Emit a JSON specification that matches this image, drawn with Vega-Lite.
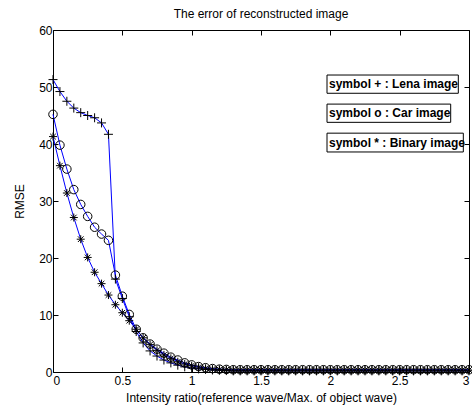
{
  "$schema": "https://vega.github.io/schema/vega-lite/v6.json",
  "width": 416,
  "height": 342,
  "autosize": {"type": "none"},
  "padding": {"left": 53, "top": 30, "right": 3, "bottom": 39},
  "background": "white",
  "config": {
    "font": "Liberation Sans",
    "view": {"stroke": null},
    "axis": {
      "grid": false,
      "domainColor": "black",
      "domainWidth": 1,
      "tickColor": "black",
      "tickWidth": 1,
      "tickSize": -5,
      "labelColor": "black",
      "labelFont": "Liberation Sans",
      "labelFontSize": 12,
      "titleFont": "Liberation Sans",
      "titleFontSize": 12,
      "titleFontWeight": "normal",
      "titleColor": "black"
    }
  },
  "title": {
    "text": "The error of reconstructed image",
    "font": "Liberation Sans",
    "fontSize": 12,
    "fontWeight": "normal",
    "color": "black",
    "anchor": "middle",
    "frame": "group",
    "offset": 3
  },
  "datasets": {
    "curves": [
      {"s":"Lena","x":0,"y":51.3},{"s":"Lena","x":0.05,"y":49.2},{"s":"Lena","x":0.1,"y":47.5},{"s":"Lena","x":0.15,"y":46.3},{"s":"Lena","x":0.2,"y":45.5},{"s":"Lena","x":0.25,"y":45.0},{"s":"Lena","x":0.3,"y":44.6},{"s":"Lena","x":0.35,"y":43.7},{"s":"Lena","x":0.4,"y":41.7},{"s":"Lena","x":0.45,"y":16.3},{"s":"Lena","x":0.5,"y":12.9},{"s":"Lena","x":0.55,"y":9.7},{"s":"Lena","x":0.6,"y":7.1},{"s":"Lena","x":0.65,"y":5.1},{"s":"Lena","x":0.7,"y":3.7},{"s":"Lena","x":0.75,"y":2.8},{"s":"Lena","x":0.8,"y":2.1},{"s":"Lena","x":0.85,"y":1.6},{"s":"Lena","x":0.9,"y":1.2},{"s":"Lena","x":0.95,"y":0.9},{"s":"Lena","x":1.0,"y":0.7},{"s":"Lena","x":1.05,"y":0.55},{"s":"Lena","x":1.1,"y":0.45},{"s":"Lena","x":1.15,"y":0.35},{"s":"Lena","x":1.2,"y":0.3},{"s":"Lena","x":1.25,"y":0.25},
      {"s":"Lena","x":1.3,"y":0.2},{"s":"Lena","x":1.35,"y":0.2},{"s":"Lena","x":1.4,"y":0.2},{"s":"Lena","x":1.45,"y":0.2},{"s":"Lena","x":1.5,"y":0.2},{"s":"Lena","x":1.55,"y":0.2},{"s":"Lena","x":1.6,"y":0.2},{"s":"Lena","x":1.65,"y":0.2},{"s":"Lena","x":1.7,"y":0.2},{"s":"Lena","x":1.75,"y":0.2},{"s":"Lena","x":1.8,"y":0.2},{"s":"Lena","x":1.85,"y":0.2},{"s":"Lena","x":1.9,"y":0.2},{"s":"Lena","x":1.95,"y":0.2},{"s":"Lena","x":2.0,"y":0.2},{"s":"Lena","x":2.05,"y":0.2},{"s":"Lena","x":2.1,"y":0.2},{"s":"Lena","x":2.15,"y":0.2},{"s":"Lena","x":2.2,"y":0.2},{"s":"Lena","x":2.25,"y":0.2},{"s":"Lena","x":2.3,"y":0.2},{"s":"Lena","x":2.35,"y":0.2},{"s":"Lena","x":2.4,"y":0.2},{"s":"Lena","x":2.45,"y":0.2},{"s":"Lena","x":2.5,"y":0.2},{"s":"Lena","x":2.55,"y":0.2},{"s":"Lena","x":2.6,"y":0.2},{"s":"Lena","x":2.65,"y":0.2},{"s":"Lena","x":2.7,"y":0.2},{"s":"Lena","x":2.75,"y":0.2},{"s":"Lena","x":2.8,"y":0.2},{"s":"Lena","x":2.85,"y":0.2},{"s":"Lena","x":2.9,"y":0.2},{"s":"Lena","x":2.95,"y":0.2},{"s":"Lena","x":3.0,"y":0.2},
      {"s":"Car","x":0,"y":45.2},{"s":"Car","x":0.05,"y":39.8},{"s":"Car","x":0.1,"y":35.6},{"s":"Car","x":0.15,"y":32.0},{"s":"Car","x":0.2,"y":29.4},{"s":"Car","x":0.25,"y":27.3},{"s":"Car","x":0.3,"y":25.4},{"s":"Car","x":0.35,"y":24.2},{"s":"Car","x":0.4,"y":23.1},{"s":"Car","x":0.45,"y":17.0},{"s":"Car","x":0.5,"y":13.3},{"s":"Car","x":0.55,"y":10.1},{"s":"Car","x":0.6,"y":7.5},{"s":"Car","x":0.65,"y":6.0},{"s":"Car","x":0.7,"y":4.9},{"s":"Car","x":0.75,"y":4.0},{"s":"Car","x":0.8,"y":3.3},{"s":"Car","x":0.85,"y":2.6},{"s":"Car","x":0.9,"y":2.1},{"s":"Car","x":0.95,"y":1.6},{"s":"Car","x":1.0,"y":1.25},{"s":"Car","x":1.05,"y":0.95},{"s":"Car","x":1.1,"y":0.75},{"s":"Car","x":1.15,"y":0.6},{"s":"Car","x":1.2,"y":0.5},{"s":"Car","x":1.25,"y":0.45},
      {"s":"Car","x":1.3,"y":0.4},{"s":"Car","x":1.35,"y":0.4},{"s":"Car","x":1.4,"y":0.4},{"s":"Car","x":1.45,"y":0.4},{"s":"Car","x":1.5,"y":0.4},{"s":"Car","x":1.55,"y":0.4},{"s":"Car","x":1.6,"y":0.4},{"s":"Car","x":1.65,"y":0.4},{"s":"Car","x":1.7,"y":0.4},{"s":"Car","x":1.75,"y":0.4},{"s":"Car","x":1.8,"y":0.4},{"s":"Car","x":1.85,"y":0.4},{"s":"Car","x":1.9,"y":0.4},{"s":"Car","x":1.95,"y":0.4},{"s":"Car","x":2.0,"y":0.4},{"s":"Car","x":2.05,"y":0.4},{"s":"Car","x":2.1,"y":0.4},{"s":"Car","x":2.15,"y":0.4},{"s":"Car","x":2.2,"y":0.4},{"s":"Car","x":2.25,"y":0.4},{"s":"Car","x":2.3,"y":0.4},{"s":"Car","x":2.35,"y":0.4},{"s":"Car","x":2.4,"y":0.4},{"s":"Car","x":2.45,"y":0.4},{"s":"Car","x":2.5,"y":0.4},{"s":"Car","x":2.55,"y":0.4},{"s":"Car","x":2.6,"y":0.4},{"s":"Car","x":2.65,"y":0.4},{"s":"Car","x":2.7,"y":0.4},{"s":"Car","x":2.75,"y":0.4},{"s":"Car","x":2.8,"y":0.4},{"s":"Car","x":2.85,"y":0.4},{"s":"Car","x":2.9,"y":0.4},{"s":"Car","x":2.95,"y":0.4},{"s":"Car","x":3.0,"y":0.4},
      {"s":"Binary","x":0,"y":41.3},{"s":"Binary","x":0.05,"y":36.2},{"s":"Binary","x":0.1,"y":31.4},{"s":"Binary","x":0.15,"y":27.1},{"s":"Binary","x":0.2,"y":23.3},{"s":"Binary","x":0.25,"y":20.1},{"s":"Binary","x":0.3,"y":17.5},{"s":"Binary","x":0.35,"y":15.5},{"s":"Binary","x":0.4,"y":13.5},{"s":"Binary","x":0.45,"y":11.8},{"s":"Binary","x":0.5,"y":10.4},{"s":"Binary","x":0.55,"y":9.0},{"s":"Binary","x":0.6,"y":7.5},{"s":"Binary","x":0.65,"y":6.0},{"s":"Binary","x":0.7,"y":4.8},{"s":"Binary","x":0.75,"y":3.8},{"s":"Binary","x":0.8,"y":3.0},{"s":"Binary","x":0.85,"y":2.4},{"s":"Binary","x":0.9,"y":1.8},{"s":"Binary","x":0.95,"y":1.4},{"s":"Binary","x":1.0,"y":1.1},{"s":"Binary","x":1.05,"y":0.85},{"s":"Binary","x":1.1,"y":0.65},{"s":"Binary","x":1.15,"y":0.5},{"s":"Binary","x":1.2,"y":0.45},{"s":"Binary","x":1.25,"y":0.4},
      {"s":"Binary","x":1.3,"y":0.35},{"s":"Binary","x":1.35,"y":0.35},{"s":"Binary","x":1.4,"y":0.35},{"s":"Binary","x":1.45,"y":0.35},{"s":"Binary","x":1.5,"y":0.35},{"s":"Binary","x":1.55,"y":0.35},{"s":"Binary","x":1.6,"y":0.35},{"s":"Binary","x":1.65,"y":0.35},{"s":"Binary","x":1.7,"y":0.35},{"s":"Binary","x":1.75,"y":0.35},{"s":"Binary","x":1.8,"y":0.35},{"s":"Binary","x":1.85,"y":0.35},{"s":"Binary","x":1.9,"y":0.35},{"s":"Binary","x":1.95,"y":0.35},{"s":"Binary","x":2.0,"y":0.35},{"s":"Binary","x":2.05,"y":0.35},{"s":"Binary","x":2.1,"y":0.35},{"s":"Binary","x":2.15,"y":0.35},{"s":"Binary","x":2.2,"y":0.35},{"s":"Binary","x":2.25,"y":0.35},{"s":"Binary","x":2.3,"y":0.35},{"s":"Binary","x":2.35,"y":0.35},{"s":"Binary","x":2.4,"y":0.35},{"s":"Binary","x":2.45,"y":0.35},{"s":"Binary","x":2.5,"y":0.35},{"s":"Binary","x":2.55,"y":0.35},{"s":"Binary","x":2.6,"y":0.35},{"s":"Binary","x":2.65,"y":0.35},{"s":"Binary","x":2.7,"y":0.35},{"s":"Binary","x":2.75,"y":0.35},{"s":"Binary","x":2.8,"y":0.35},{"s":"Binary","x":2.85,"y":0.35},{"s":"Binary","x":2.9,"y":0.35},{"s":"Binary","x":2.95,"y":0.35},{"s":"Binary","x":3.0,"y":0.35}
    ],
    "notes": [
      {"label":"symbol + : Lena image","x0":1.976,"x1":2.923,"ytop":52.1,"ybot":48.9,"ymid":50.5},
      {"label":"symbol o : Car image","x0":1.976,"x1":2.868,"ytop":47.0,"ybot":43.8,"ymid":45.4},
      {"label":"symbol * : Binary image","x0":1.976,"x1":2.959,"ytop":41.9,"ybot":38.6,"ymid":40.25}
    ]
  },
  "layer": [
    {
      "data": {"name": "curves"},
      "mark": {"type": "line", "color": "#0000ff", "strokeWidth": 1},
      "encoding": {
        "x": {"field": "x", "type": "quantitative",
              "scale": {"domain": [0, 3], "nice": false, "zero": false},
              "axis": {"orient": "bottom", "values": [0,0.5,1,1.5,2,2.5,3], "format": "~g", "labelPadding": 8,
                       "title": "Intensity ratio(reference wave/Max. of object wave)", "titlePadding": 6}},
        "y": {"field": "y", "type": "quantitative",
              "scale": {"domain": [0, 60], "nice": false},
              "axis": {"orient": "left", "values": [0,10,20,30,40,50,60], "labelPadding": 6,
                       "title": "RMSE", "titlePadding": 12}},
        "detail": {"field": "s"},
        "order": {"field": "x", "type": "quantitative"}
      }
    },
    {
      "data": {"name": "curves"},
      "mark": {"type": "point", "filled": false, "color": "black", "strokeWidth": 1, "opacity": 1},
      "encoding": {
        "x": {"field": "x", "type": "quantitative",
              "axis": {"orient": "top", "values": [0,0.5,1,1.5,2,2.5,3], "labels": false, "title": null}},
        "y": {"field": "y", "type": "quantitative",
              "axis": {"orient": "right", "values": [0,10,20,30,40,50,60], "labels": false, "title": null}},
        "shape": {"field": "s", "type": "nominal", "legend": null,
                  "scale": {"domain": ["Lena","Car","Binary"],
                            "range": ["M-1,0L1,0M0,-1L0,1", "circle", "M-1,0L1,0M0,-1L0,1M-0.7,-0.7L0.7,0.7M-0.7,0.7L0.7,-0.7"]}},
        "size": {"field": "s", "type": "nominal", "legend": null,
                 "scale": {"domain": ["Lena","Car","Binary"], "range": [81, 64, 49]}}
      }
    },
    {
      "data": {"name": "notes"},
      "mark": {"type": "rect", "fill": "white", "stroke": "black", "strokeWidth": 1},
      "encoding": {
        "x": {"field": "x0", "type": "quantitative", "axis": null},
        "x2": {"field": "x1"},
        "y": {"field": "ytop", "type": "quantitative", "axis": null},
        "y2": {"field": "ybot"}
      }
    },
    {
      "data": {"name": "notes"},
      "mark": {"type": "text", "align": "left", "baseline": "middle", "dx": 2, "font": "Liberation Sans", "fontSize": 12, "fontWeight": "bold", "color": "black"},
      "encoding": {
        "x": {"field": "x0", "type": "quantitative", "axis": null},
        "y": {"field": "ymid", "type": "quantitative", "axis": null},
        "text": {"field": "label"}
      }
    }
  ],
  "resolve": {"axis": {"x": "independent", "y": "independent"}}
}
